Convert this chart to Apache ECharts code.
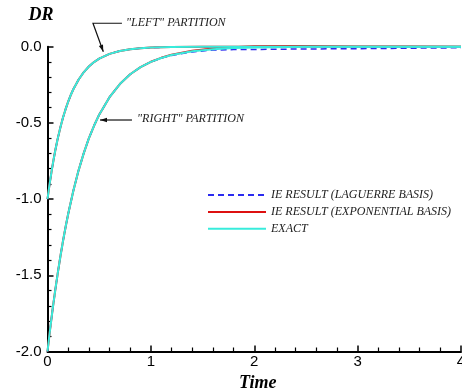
<!DOCTYPE html>
<html>
<head>
<meta charset="utf-8">
<script src="https://cdn.jsdelivr.net/npm/echarts@6/dist/echarts.min.js"></script>
<style>
  html, body { margin: 0; padding: 0; background: #fff; }
  #c { width: 462px; height: 392px; }
</style>
</head>
<body>
<div id="c"></div>
<script>
// Decay of DR over time for the two partitions.
const timeLeft = [0, 0.0125, 0.025, 0.0375, 0.05, 0.0625, 0.075, 0.0875, 0.1, 0.125, 0.15, 0.175, 0.2, 0.225, 0.25, 0.3, 0.35, 0.4, 0.45, 0.5, 0.6, 0.7, 0.8, 0.9, 1.0, 1.2, 1.5, 2.0, 2.5, 3.0, 3.5, 4.0];
const exactLeft = [-1.000, -0.938, -0.880, -0.826, -0.775, -0.727, -0.682, -0.640, -0.600, -0.529, -0.465, -0.410, -0.361, -0.317, -0.279, -0.217, -0.168, -0.130, -0.101, -0.078, -0.047, -0.028, -0.017, -0.010, -0.006, -0.002, -0.001, 0, 0, 0, 0, 0];
const laguerreLeft = [-1.000, -0.938, -0.881, -0.826, -0.776, -0.727, -0.682, -0.640, -0.600, -0.529, -0.466, -0.410, -0.361, -0.317, -0.279, -0.217, -0.168, -0.130, -0.101, -0.078, -0.047, -0.028, -0.017, -0.010, -0.006, -0.003, -0.002, -0.001, -0.001, 0, 0, 0];
const expLeft = [-1.000, -0.938, -0.880, -0.826, -0.775, -0.727, -0.681, -0.640, -0.600, -0.528, -0.465, -0.410, -0.360, -0.317, -0.279, -0.217, -0.168, -0.130, -0.101, -0.078, -0.047, -0.028, -0.017, -0.010, -0.005, -0.002, 0, 0, 0, 0, 0, 0];

const timeRight = [0, 0.025, 0.05, 0.075, 0.1, 0.125, 0.15, 0.175, 0.2, 0.25, 0.3, 0.35, 0.4, 0.45, 0.5, 0.6, 0.7, 0.8, 0.9, 1.0, 1.1, 1.2, 1.4, 1.6, 1.8, 2.0, 2.5, 3.0, 3.5, 4.0];
const exactRight = [-2.000, -1.855, -1.721, -1.597, -1.482, -1.375, -1.275, -1.183, -1.098, -0.945, -0.813, -0.700, -0.602, -0.519, -0.446, -0.331, -0.245, -0.181, -0.134, -0.100, -0.074, -0.055, -0.030, -0.016, -0.009, -0.005, -0.001, 0, 0, 0];
const laguerreRight = [-2.000, -1.855, -1.721, -1.597, -1.482, -1.375, -1.275, -1.183, -1.098, -0.945, -0.813, -0.700, -0.602, -0.519, -0.446, -0.331, -0.245, -0.181, -0.134, -0.100, -0.075, -0.057, -0.034, -0.022, -0.019, -0.018, -0.015, -0.013, -0.010, -0.007];
const expRight = [-2.000, -1.855, -1.721, -1.597, -1.482, -1.375, -1.275, -1.183, -1.098, -0.945, -0.813, -0.700, -0.602, -0.519, -0.446, -0.331, -0.245, -0.181, -0.134, -0.099, -0.073, -0.053, -0.027, -0.012, -0.004, 0.003, 0.004, 0.002, 0.001, 0];

const xTicks = ['0', '1', '2', '3', '4'];
const seriesNames = ['IE RESULT (LAGUERRE BASIS)', 'IE RESULT (EXPONENTIAL BASIS)', 'EXACT'];
const leftLabel = '"LEFT" PARTITION';
const rightLabel = '"RIGHT" PARTITION';

const pair = (xs, ys) => xs.map((x, i) => [x, ys[i]]);

const BLUE = '#2b2bef';
const RED = '#dd1010';
const CYAN = '#38ecdc';
const serif = 'Liberation Serif, Times New Roman, serif';
const sans = 'Liberation Sans, Arial, sans-serif';

function lineSeries(name, data, color, width, dashed) {
  return {
    name: name,
    type: 'line',
    data: data,
    symbol: 'none',
    smooth: false,
    clip: false,
    animation: false,
    lineStyle: { color: color, width: width, type: dashed ? [6, 4] : 'solid', join: 'round' },
    itemStyle: { color: color }
  };
}

const chart = echarts.init(document.getElementById('c'), null, { renderer: 'canvas' });

chart.setOption({
  animation: false,
  backgroundColor: '#ffffff',
  grid: { left: 47.5, right: 1, top: 46.7, bottom: 40.5, containLabel: false, outerBoundsMode: 'none' },
  legend: {
    orient: 'vertical',
    left: 207,
    top: 189,
    padding: 0,
    itemWidth: 58,
    itemHeight: 14,
    itemGap: 4.9,
    data: seriesNames,
    itemStyle: { opacity: 0 },
    textStyle: { fontFamily: serif, fontStyle: 'italic', fontSize: 12, color: '#222' },
    selectedMode: false
  },
  xAxis: {
    type: 'value',
    min: 0, max: 4, interval: 1,
    name: 'Time',
    nameLocation: 'middle',
    nameGap: 19,
    nameTextStyle: { fontFamily: serif, fontStyle: 'italic', fontWeight: 'bold', fontSize: 18, color: '#000', padding: [0, 0, 0, 7] },
    axisLine: { show: true, onZero: false, lineStyle: { color: '#000', width: 2 } },
    axisTick: { show: true, inside: true, length: 6, lineStyle: { color: '#000', width: 1.5 } },
    minorTick: { show: true, splitNumber: 5, length: 4, lineStyle: { color: '#000', width: 1.2 } },
    splitLine: { show: false },
    axisLabel: {
      margin: 3,
      fontFamily: sans, fontSize: 15, color: '#000',
      formatter: v => xTicks[Math.round(v)]
    }
  },
  yAxis: {
    type: 'value',
    min: -2, max: 0, interval: 0.5,
    name: 'DR',
    nameLocation: 'end',
    nameGap: 22,
    nameTextStyle: { fontFamily: serif, fontStyle: 'italic', fontWeight: 'bold', fontSize: 18, color: '#000', align: 'center', padding: [0, 13, 0, 0] },
    axisLine: { show: true, onZero: false, lineStyle: { color: '#000', width: 2 } },
    axisTick: { show: true, inside: true, length: 6, lineStyle: { color: '#000', width: 1.5 } },
    minorTick: { show: true, splitNumber: 5, length: 4, lineStyle: { color: '#000', width: 1.2 } },
    splitLine: { show: false },
    axisLabel: {
      margin: 6,
      fontFamily: sans, fontSize: 15, color: '#000',
      formatter: v => v.toFixed(1)
    }
  },
  series: [
    lineSeries(seriesNames[0], pair(timeLeft, laguerreLeft), BLUE, 1.5, true),
    lineSeries(seriesNames[0], pair(timeRight, laguerreRight), BLUE, 1.5, true),
    lineSeries(seriesNames[1], pair(timeLeft, expLeft), RED, 2, false),
    lineSeries(seriesNames[1], pair(timeRight, expRight), RED, 2, false),
    lineSeries(seriesNames[2], pair(timeLeft, exactLeft), CYAN, 2, false),
    lineSeries(seriesNames[2], pair(timeRight, exactRight), CYAN, 2, false)
  ]
});

// Partition callouts, anchored in data coordinates.
const leftCallout = { path: [[0.72, 0.154], [0.44, 0.154], [0.54, -0.033]], text: [0.76, 0.155] };
const rightCallout = { path: [[0.817, -0.481], [0.508, -0.481]], text: [0.866, -0.474] };

const toPx = p => chart.convertToPixel({ gridIndex: 0 }, p);

function arrowHead(from, to, len, half) {
  const dx = to[0] - from[0], dy = to[1] - from[1];
  const d = Math.hypot(dx, dy);
  const ux = dx / d, uy = dy / d;
  const bx = to[0] - ux * len, by = to[1] - uy * len;
  return [[to[0], to[1]], [bx - uy * half, by + ux * half], [bx + uy * half, by - ux * half]];
}

function callout(c, label) {
  const pts = c.path.map(toPx);
  const n = pts.length;
  const head = arrowHead(pts[n - 2], pts[n - 1], 7, 2.2);
  const tp = toPx(c.text);
  return [
    { type: 'polyline', silent: true, shape: { points: pts }, style: { stroke: '#111', lineWidth: 1.2, fill: null } },
    { type: 'polygon', silent: true, shape: { points: head }, style: { fill: '#111' } },
    { type: 'text', silent: true, x: tp[0], y: tp[1],
      style: { text: label, fontFamily: serif, fontStyle: 'italic', fontSize: 12, fill: '#222', verticalAlign: 'middle', align: 'left' } }
  ];
}

chart.setOption({ graphic: callout(leftCallout, leftLabel).concat(callout(rightCallout, rightLabel)) });
</script>
</body>
</html>
